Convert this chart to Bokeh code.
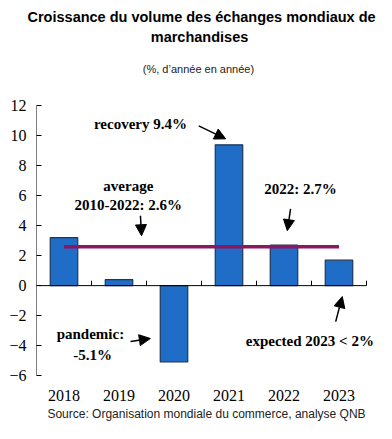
from bokeh.plotting import figure
from bokeh.models import (Range1d, FixedTicker, Arrow, NormalHead,
                          ColumnDataSource, Label)
from bokeh.embed import file_html
from bokeh.resources import INLINE

years = [2018, 2019, 2020, 2021, 2022, 2023]
growth = [3.2, 0.4, -5.1, 9.4, 2.7, 1.7]
avg_value = 2.6
avg_x = [years[0], years[-1]]
avg_y = [avg_value, avg_value]
y_ticks = [-6, -4, -2, 0, 2, 4, 6, 8, 10, 12]

SERIF = "Liberation Serif"
SANS = "Liberation Sans"

x_lo = years[0] - 0.5
x_hi = years[-1] + 0.5
y_top = 16.967   # head-room inside the frame for the subtitle lines

p = figure(width=376, height=423, output_backend="svg", toolbar_location=None,
           x_range=Range1d(x_lo, x_hi + 0.182),
           y_range=Range1d(y_ticks[0], y_top),
           min_border_left=36, min_border_right=0, min_border_top=0,
           min_border_bottom=0)
p.outline_line_color = None
p.grid.grid_line_color = None
p.background_fill_color = "white"
p.border_fill_color = "white"

# title (line 1)
p.title.text = "Croissance du volume des échanges mondiaux de"
p.title.align = "left"
p.title.offset = -9
p.title.text_font = SANS
p.title.text_font_size = "14.5px"
p.title.text_font_style = "bold"
p.title.text_color = "black"
p.title.standoff = 13

src = ColumnDataSource(dict(x=years, top=growth))
p.vbar(x="x", top="top", bottom=0, width=0.5, source=src,
       fill_color="#1F6DC6", line_color="#1E3658", line_width=1.2)

p.line(avg_x, avg_y, line_color="#8B1762", line_width=3.5)

# y axis line, zero line and category boundary ticks
p.segment(x0=[x_lo], y0=[y_ticks[0]], x1=[x_lo], y1=[y_ticks[-1]],
          line_color="black", line_width=1)
p.segment(x0=[x_lo], y0=[0], x1=[x_hi], y1=[0], line_color="black", line_width=1)
bounds = [y + 0.5 for y in years]
p.segment(x0=bounds, y0=[0] * len(bounds), x1=bounds, y1=[0.33] * len(bounds),
          line_color="black", line_width=1)

# axes
xa = p.xaxis[0]
xa.ticker = FixedTicker(ticks=years)
xa.axis_line_color = None
xa.major_tick_line_color = None
xa.minor_tick_line_color = None
xa.major_label_text_font = SERIF
xa.major_label_text_font_size = "16px"
xa.major_label_text_color = "black"
xa.major_label_standoff = 8
xa.axis_label = "Source: Organisation mondiale du commerce, analyse QNB"
xa.axis_label_text_font = SANS
xa.axis_label_text_font_size = "12px"
xa.axis_label_text_font_style = "normal"
xa.axis_label_text_color = "#222222"
xa.axis_label_standoff = 3

ya = p.yaxis[0]
ya.ticker = FixedTicker(ticks=y_ticks)
ya.axis_line_color = None
ya.major_tick_in = 5
ya.major_tick_out = 0
ya.minor_tick_line_color = None
ya.major_label_text_font = SERIF
ya.major_label_text_font_size = "16px"
ya.major_label_text_color = "black"
ya.major_label_standoff = 10

# title line 2 and subtitle (inside the frame head-room)
p.add_layout(Label(x=2020.464, y=16.633, text="marchandises", text_font=SANS,
                   text_font_size="14.5px", text_font_style="bold", text_color="black",
                   text_align="center", text_baseline="middle"))
p.add_layout(Label(x=2020.445, y=14.467, text="(%, d\u2019année en année)", text_font=SANS,
                   text_font_size="11px", text_color="#222222",
                   text_align="center", text_baseline="middle"))

def lab(x, y, t):
    p.add_layout(Label(x=x, y=y, text=t, text_font=SERIF, text_font_size="15px",
                       text_font_style="bold", text_color="black",
                       text_align="center", text_baseline="middle"))

def arr(x0, y0, x1, y1):
    p.add_layout(Arrow(x_start=x0, y_start=y0, x_end=x1, y_end=y1,
                       line_color="black", line_width=1.5,
                       end=NormalHead(size=11, fill_color="black", line_color="black")))

lab(2019.39, 10.8, "recovery 9.4%")
arr(2020.45, 10.67, 2020.94, 9.8)
lab(2019.17, 6.67, "average")
lab(2019.17, 5.4, "2010-2022: 2.6%")
arr(2019.39, 4.67, 2019.41, 3.33)
lab(2022.3, 6.47, "2022: 2.7%")
arr(2022.12, 5.13, 2022.06, 3.67)
lab(2018.48, -3.2, "pandemic:")
lab(2018.52, -4.6, "-5.1%")
arr(2019.21, -3.73, 2019.57, -3.53)
lab(2022.47, -3.67, "expected 2023 < 2%")
arr(2022.94, -2.4, 2023.06, -0.73)

open("out.html", "w").write(file_html(p, INLINE))
